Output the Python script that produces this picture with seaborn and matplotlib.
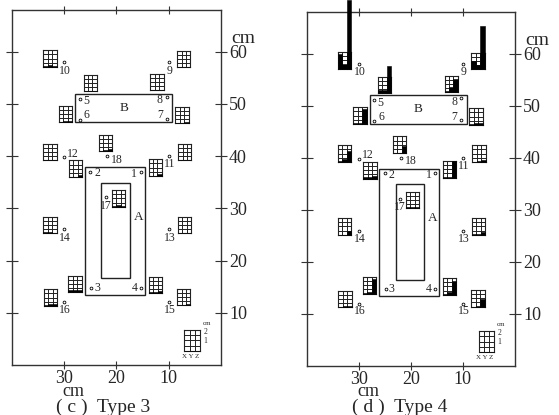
import numpy as np
import pandas as pd
import matplotlib
matplotlib.use('Agg')
import matplotlib.pyplot as plt
from matplotlib.patches import Rectangle
import seaborn as sns

# measuring points 1..18, in cm from the corner of the room
point_ids = [str(i) for i in range(1, 19)]
point_x = [15.3, 25.0, 24.8, 15.3, 27.0, 27.0, 10.3, 10.4, 9.9, 30.0, 9.9, 30.0, 9.9, 30.0, 9.9, 30.0, 22.0, 21.9]
point_y = [37.0, 37.0, 14.7, 14.75, 51.0, 47.0, 47.2, 51.4, 58.0, 58.0, 40.0, 39.8, 26.0, 26.0, 12.0, 12.0, 32.1, 40.0]
label_x = [16.6, 23.7, 23.7, 16.6, 25.8, 25.7, 11.7, 11.7, 9.8, 29.8, 9.8, 28.3, 9.8, 29.8, 9.8, 29.8, 22.0, 20.0]
label_y = [36.6, 36.7, 14.7, 14.7, 50.5, 47.8, 47.8, 50.8, 56.4, 56.4, 38.5, 40.5, 24.4, 24.4, 10.6, 10.6, 30.5, 39.3]

# lower left corner of each small gauge
gauge_x = [13.86, 29.1, 29.2, 13.8, 26.3, 31.0, 8.75, 13.5, 8.4, 34.0, 8.2, 34.0, 8.3, 34.0, 8.4, 33.9, 20.9, 23.4]
gauge_y = [36.2, 36.0, 13.9, 13.7, 52.4, 46.5, 46.3, 52.6, 57.0, 57.1, 39.2, 39.2, 25.2, 25.2, 11.4, 11.3, 30.3, 40.9]

# X, Y, Z values per point (cm)
type3_x = [0.0, 0.0, 0.3, 0.2, 0.1, 0.05, 0.05, 0.1, 0.0, 0.05, 0.05, 0.1, 0.1, 0.2, 0.05, 0.15, 0.1, 0.1]
type3_y = [0.05, 0.0, 0.3, 0.2, 0.1, 0.1, 0.05, 0.05, 0.0, 0.25, 0.05, 0.1, 0.05, 0.2, 0.05, 0.3, 0.2, 0.15]
type3_z = [0.2, 0.3, 0.25, 0.3, 0.1, 0.2, 0.2, 0.1, 0.0, 0.15, 0.1, 0.05, 0.1, 0.1, 0.15, 0.2, 0.15, 0.25]
type4_x = [0.1, 0.2, 0.1, 0.1, 0.4, 0.1, 0.1, 0.1, 1.0, 1.8, 0.05, 0.1, 0.05, 0.0, 0.0, 0.0, 0.1, 0.0]
type4_y = [0.1, 0.2, 0.2, 0.3, 0.4, 0.1, 0.2, 0.6, 0.5, 0.6, 0.1, 0.4, 0.05, 0.0, 0.1, 0.1, 0.1, 0.0]
type4_z = [2.0, 0.3, 1.7, 1.6, 3.3, 1.8, 0.2, 1.6, 5.2, 8.2, 0.2, 1.3, 0.3, 0.4, 0.9, 0.2, 0.1, 0.9]

components = ['X', 'Y', 'Z']
x_ticks = [30, 20, 10]
y_ticks = [60, 50, 40, 30, 20, 10]

# outlines: left, bottom, right, top
box_a = (26.0, 13.5, 14.5, 37.9)
box_inner = (22.9, 16.6, 17.5, 34.9)
box_b = (27.9, 46.5, 9.3, 52.0)

X_MAX, Y_MAX = 40, 68
GW, GH = 2.55, 3.2


def draw_gauge(ax, left, bottom, vals, w=GW, h=GH, rows=4):
    # x axis runs right to left, so go through axes fractions
    ins = ax.inset_axes([(X_MAX - left) / X_MAX, bottom / Y_MAX, w / X_MAX, h / Y_MAX])
    df = pd.DataFrame({'comp': components, 'val': vals})
    sns.barplot(data=df, x='comp', y='val', color='black', saturation=1, width=1,
                edgecolor='black', linewidth=0.4, ax=ins, zorder=3)
    for p in ins.patches:
        p.set_clip_on(False)
    ins.set_xlim(-0.5, 2.5)
    ins.set_ylim(0, 2)
    ins.set_xticks([0.5, 1.5])
    ins.set_yticks(np.linspace(0, 2, rows + 1)[1:-1])
    ins.grid(True, color='#222222', lw=0.7)
    ins.tick_params(length=0, labelbottom=False, labelleft=False)
    ins.set_xlabel('')
    ins.set_ylabel('')
    ins.patch.set_alpha(0)
    for s in ins.spines.values():
        s.set_visible(True)
        s.set_color('#222222')
        s.set_linewidth(0.8)


def draw_panel(ax, xv, yv, zv):
    ax.set_xlim(X_MAX, 0)
    ax.set_ylim(0, Y_MAX)
    for s in ax.spines.values():
        s.set_visible(True)
        s.set_color('#333333')
        s.set_linewidth(1)
    ax.set_xticks(x_ticks)
    ax.set_yticks(y_ticks)
    ax.tick_params(axis='x', top=True, bottom=True, direction='inout', length=6, width=0.8,
                   color='#333333', labelsize=13, pad=0.5)
    ax.tick_params(axis='y', left=True, right=True, labelleft=False, labelright=True, direction='inout',
                   length=8, width=0.8, color='#333333', labelsize=13, pad=1.8)
    for b in (box_a, box_inner, box_b):
        ax.add_patch(Rectangle((b[0], b[1]), b[2] - b[0], b[3] - b[1], fill=False, ec='#222222', lw=1))
    sns.scatterplot(x=point_x, y=point_y, ax=ax, s=4, color='white', edgecolor='black', linewidth=0.6, zorder=4)
    for n, tx, ty in zip(point_ids, label_x, label_y):
        ax.text(tx, ty, n, fontsize=8.5, ha='center', va='center')
    ax.text(15.7, 28.4, 'A', fontsize=9.5, ha='center', va='center')
    ax.text(18.6, 49.3, 'B', fontsize=9.5, ha='center', va='center')
    for i in range(len(gauge_x)):
        draw_gauge(ax, gauge_x[i], gauge_y[i], [xv[i], yv[i], zv[i]])
    # key gauge in the corner
    draw_gauge(ax, 7.0, 2.7, [0, 0, 0], w=3.0, h=4.0)
    ax.text(5.9, 1.7, 'X Y Z', fontsize=5, ha='center', va='center')
    ax.text(2.7, 8.0, 'cm', fontsize=5, ha='center', va='center')
    ax.text(3.0, 6.4, '2', fontsize=5.5, ha='center', va='center')
    ax.text(3.0, 4.6, '1', fontsize=5.5, ha='center', va='center')
    ax.text(1.05, 0.92, 'cm', transform=ax.transAxes, fontsize=14, va='center')


sns.set_theme(style='white')
plt.rcParams['font.family'] = ['Liberation Serif', 'DejaVu Serif']

fig = plt.figure(figsize=(5.59, 4.15), dpi=100)
W, H = 559.0, 415.0
ax_c = fig.add_axes([12 / W, 1 - 365 / H, 209 / W, 355 / H])
ax_d = fig.add_axes([306.5 / W, 1 - 366 / H, 208.5 / W, 354 / H])

draw_panel(ax_c, type3_x, type3_y, type3_z)
draw_panel(ax_d, type4_x, type4_y, type4_z)

fig.text(73 / W, 1 - 391.5 / H, 'cm', fontsize=13, ha='center', va='center')
fig.text(103 / W, 1 - 407.5 / H, '( c )  Type 3', fontsize=14, ha='center', va='center')
fig.text(368 / W, 1 - 391.5 / H, 'cm', fontsize=13, ha='center', va='center')
fig.text(400 / W, 1 - 407.5 / H, '( d )  Type 4', fontsize=14, ha='center', va='center')

fig.savefig('out.png', dpi=100)
